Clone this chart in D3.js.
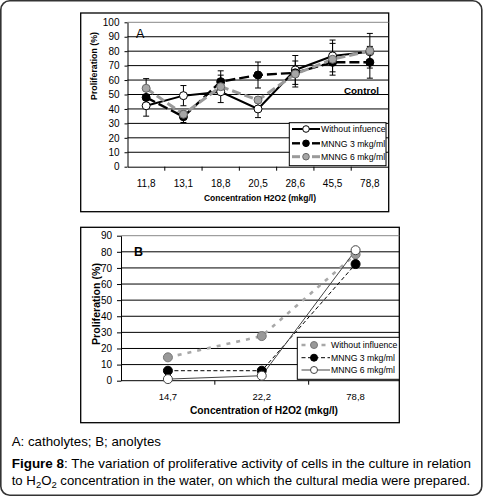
<!DOCTYPE html>
<html><head><meta charset="utf-8">
<script src="https://cdn.jsdelivr.net/npm/d3@7/dist/d3.min.js"></script>
<style>
html,body{margin:0;padding:0;background:#fff;}
svg{display:block;font-family:"Liberation Sans",Arial,sans-serif;}
</style></head>
<body>
<svg id="chart" width="483" height="498"></svg>
<script>
// ---------- DATA ----------
const categoriesA = ["11,8","13,1","18,8","20,5","28,6","45,5","78,8"];
const withoutA = [42.2,49.2,51.9,40.0,67.0,76.7,79.6];
const mnng3A   = [48.0,34.6,58.9,63.5,65.0,72.3,72.3];
const mnng6A   = [54.3,36.3,55.4,46.2,64.2,74.4,80.3];
const errWithoutA = [0,7,0,6,10,11,0];
const errMnng3A   = [13,4,4.5,9,0,0,11];
const errMnng6A   = [0,0,11,0,9,11,12];
const yTicksA = [0,10,20,30,40,50,60,70,80,90,100];
const legendA = ["Without infuence","MNNG 3 mkg/ml","MNNG 6 mkg/ml"];

const categoriesB = ["14,7","22,2","78,8"];
const withoutB = [14.5,27.7,78.4];
const mnng3B   = [6.2,6.2,72.4];
const mnng6B   = [1.0,3.1,81.0];
const yTicksB = [0,10,20,30,40,50,60,70,80,90];
const legendB = ["Without influence","MNNG 3 mkg/ml","MNNG 6 mkg/ml"];

// ---------- HELPERS ----------
const svg = d3.select("#chart");
function fit(sel, w){
  const n = sel.node();
  const cur = parseFloat(sel.attr("font-size"));
  const len = n.getComputedTextLength();
  if(len>0) sel.attr("font-size", (cur*w/len).toFixed(2));
  return sel;
}

// outer frame
svg.append("rect").attr("x",0.8).attr("y",0.8).attr("width",481).attr("height",494.5)
  .attr("rx",9).attr("fill","none").attr("stroke","#333").attr("stroke-width",1.6);

// ---------- PANEL A ----------
(function(){
  const L=127.5,R=388.5,T=22.3,B=166.7;
  svg.append("rect").attr("x",80.7).attr("y",13).attr("width",308).attr("height",198.7)
    .attr("fill","#fff").attr("stroke","#000").attr("stroke-width",1.3);
  const x = d3.scaleBand().domain(categoriesA).range([L,R]).padding(0);
  const y = d3.scaleLinear().domain([0,100]).range([B,T]);
  const g = svg.append("g");
  g.selectAll("line.grid").data(yTicksA.filter(d=>d>0)).join("line")
    .attr("x1",L).attr("x2",R).attr("y1",d=>y(d)).attr("y2",d=>y(d))
    .attr("stroke",d=>d===100?"#888":"#000").attr("stroke-width",1);
  const ya = g.append("g").attr("transform",`translate(${L},0)`)
    .call(d3.axisLeft(y).tickValues(yTicksA).tickSize(3).tickPadding(5).tickSizeOuter(0));
  ya.select(".domain").attr("stroke","#000");
  ya.selectAll("text").attr("font-size",10).attr("font-family","Liberation Sans, Arial").attr("fill","#000");
  const xa = g.append("g").attr("transform",`translate(0,${B})`)
    .call(d3.axisBottom(x).tickSize(0).tickPadding(13).tickSizeOuter(0));
  xa.select(".domain").attr("stroke","#000");
  xa.selectAll("text").attr("font-size",10).attr("font-family","Liberation Sans, Arial").attr("fill","#000");
  g.selectAll("line.xt").data(categoriesA.slice(1)).join("line")
    .attr("x1",d=>x(d)).attr("x2",d=>x(d)).attr("y1",B).attr("y2",B+4).attr("stroke","#000");
  fit(svg.append("text").attr("x",260).attr("y",201).attr("text-anchor","middle")
    .attr("font-size",9).attr("font-weight","bold").text("Concentration H2O2 (mkg/l)"),112);
  fit(svg.append("text").attr("transform","translate(96.5,66) rotate(-90)").attr("text-anchor","middle")
    .attr("font-size",9).attr("font-weight","bold").text("Proliferation (%)"),68);
  svg.append("text").attr("x",136).attr("y",38).attr("font-size",12.5).text("A");

  const series = [
    {v:withoutA,e:errWithoutA,stroke:"#000",w:2,dash:null,fill:"#fff",ms:"#000"},
    {v:mnng3A,e:errMnng3A,stroke:"#000",w:2.4,dash:"10,4",fill:"#000",ms:"#000"},
    {v:mnng6A,e:errMnng6A,stroke:"#9a9a9a",w:3,dash:"9,4",fill:"#a6a6a6",ms:"#666"}
  ];
  const line = d3.line().x((d,i)=>x(categoriesA[i])+x.bandwidth()/2).y(d=>y(d));
  series.forEach(s=>{
    s.v.forEach((v,i)=>{
      const e=s.e[i]; if(!e) return;
      const cx=x(categoriesA[i])+x.bandwidth()/2;
      g.append("line").attr("x1",cx).attr("x2",cx).attr("y1",y(v-e)).attr("y2",y(v+e)).attr("stroke","#000");
      [v-e,v+e].forEach(t=>g.append("line").attr("x1",cx-3).attr("x2",cx+3).attr("y1",y(t)).attr("y2",y(t)).attr("stroke","#000"));
    });
  });
  series.forEach(s=>{
    g.append("path").datum(s.v).attr("d",line).attr("fill","none").attr("stroke",s.stroke)
      .attr("stroke-width",s.w).attr("stroke-dasharray",s.dash);
  });
  series.forEach(s=>{
    g.selectAll(null).data(s.v).join("circle")
      .attr("cx",(d,i)=>x(categoriesA[i])+x.bandwidth()/2).attr("cy",d=>y(d)).attr("r",4)
      .attr("fill",s.fill).attr("stroke",s.ms).attr("stroke-width",1);
  });
  fit(svg.append("text").attr("x",344).attr("y",93.5).attr("font-size",10.5).attr("font-weight","bold").text("Control"),35);
  // legend
  const lg = svg.append("g");
  lg.append("rect").attr("x",289.3).attr("y",122.7).attr("width",96.7).attr("height",43)
    .attr("fill","#fff").attr("stroke","#000").attr("stroke-width",1);
  const rows=[129,143.3,156.7];
  let fsA = 9;
  series.forEach((s,i)=>{
    if(s.dash){
      [[292,300],[312,320]].forEach(seg=>lg.append("line").attr("x1",seg[0]).attr("x2",seg[1])
        .attr("y1",rows[i]).attr("y2",rows[i]).attr("stroke",s.stroke).attr("stroke-width",s.w));
    } else {
      lg.append("line").attr("x1",292).attr("x2",320).attr("y1",rows[i]).attr("y2",rows[i])
        .attr("stroke",s.stroke).attr("stroke-width",s.w);
    }
    lg.append("circle").attr("cx",306).attr("cy",rows[i]).attr("r",3.3).attr("fill",s.fill).attr("stroke",s.ms);
    const t = lg.append("text").attr("x",321).attr("y",rows[i]+3.3).attr("font-size",fsA).text(legendA[i]);
    if(i===0){ fit(t,64.7); fsA = t.attr("font-size"); }
  });
})();

// ---------- PANEL B ----------
(function(){
  const L=121,R=399.3,T=235.7,B=380.7;
  svg.append("rect").attr("x",80.7).attr("y",227.3).attr("width",318.6).attr("height",195.4)
    .attr("fill","#fff").attr("stroke","#000").attr("stroke-width",1.3);
  const x = d3.scaleBand().domain(categoriesB).range([L,402.5]).padding(0);
  const y = d3.scaleLinear().domain([0,90]).range([B,T]);
  const g = svg.append("g");
  g.selectAll("line.grid").data(yTicksB.filter(d=>d>0)).join("line")
    .attr("x1",L).attr("x2",R).attr("y1",d=>y(d)).attr("y2",d=>y(d))
    .attr("stroke",d=>d===90?"#888":"#000").attr("stroke-width",1);
  const ya = g.append("g").attr("transform",`translate(${L},0)`)
    .call(d3.axisLeft(y).tickValues(yTicksB).tickSize(4).tickPadding(5).tickSizeOuter(0));
  ya.select(".domain").attr("stroke","#000");
  ya.selectAll("text").attr("font-size",10).attr("font-family","Liberation Sans, Arial").attr("fill","#000");
  const xa = g.append("g").attr("transform",`translate(0,${B})`)
    .call(d3.axisBottom(x).tickSize(0).tickPadding(13).tickSizeOuter(0));
  xa.select(".domain").attr("stroke","#000").attr("d",`M${L},0H${R}`);
  xa.selectAll("text").attr("font-size",9.5).attr("font-family","Liberation Sans, Arial").attr("fill","#000");
  g.selectAll("line.xt").data(categoriesB.slice(1)).join("line")
    .attr("x1",d=>x(d)).attr("x2",d=>x(d)).attr("y1",B).attr("y2",B+4).attr("stroke","#000");
  fit(svg.append("text").attr("x",264).attr("y",414).attr("text-anchor","middle")
    .attr("font-size",10).attr("font-weight","bold").text("Concentration of H2O2 (mkg/l)"),148);
  fit(svg.append("text").attr("transform","translate(100,304) rotate(-90)").attr("text-anchor","middle")
    .attr("font-size",10).attr("font-weight","bold").text("Proliferation (%)"),82);
  svg.append("text").attr("x",134).attr("y",256).attr("font-size",12.5).attr("font-weight","bold").text("B");

  const series = [
    {v:withoutB,stroke:"#a8a8a8",w:2.6,dash:"4,6",fill:"#999",ms:"#777"},
    {v:mnng3B,stroke:"#000",w:1,dash:"4,2.5",fill:"#000",ms:"#000"},
    {v:mnng6B,stroke:"#444",w:1,dash:null,fill:"#fff",ms:"#444"}
  ];
  const line = d3.line().x((d,i)=>x(categoriesB[i])+x.bandwidth()/2).y(d=>y(d));
  series.forEach(s=>{
    g.append("path").datum(s.v).attr("d",line).attr("fill","none").attr("stroke",s.stroke)
      .attr("stroke-width",s.w).attr("stroke-dasharray",s.dash);
  });
  series.forEach(s=>{
    g.selectAll(null).data(s.v).join("circle")
      .attr("cx",(d,i)=>x(categoriesB[i])+x.bandwidth()/2).attr("cy",d=>y(d)).attr("r",4.5)
      .attr("fill",s.fill).attr("stroke",s.ms).attr("stroke-width",1);
  });
  const lg = svg.append("g");
  lg.append("rect").attr("x",297.3).attr("y",337.3).attr("width",102).attr("height",42)
    .attr("fill","#fff").attr("stroke","#000").attr("stroke-width",1);
  const rows=[345,357.7,370];
  let fsB = 9.5;
  series.forEach((s,i)=>{
    lg.append("line").attr("x1",301.5).attr("x2",330).attr("y1",rows[i]).attr("y2",rows[i])
      .attr("stroke",s.stroke).attr("stroke-width",s.w).attr("stroke-dasharray",s.dash);
    lg.append("circle").attr("cx",314).attr("cy",rows[i]).attr("r",3.5).attr("fill",s.fill).attr("stroke",s.ms);
    const t = lg.append("text").attr("x",331).attr("y",rows[i]+3.4).attr("font-size",fsB).text(legendB[i]);
    if(i===0){ fit(t,66.5); fsB = t.attr("font-size"); }
  });
})();

// ---------- CAPTION ----------
fit(svg.append("text").attr("x",11.7).attr("y",446).attr("font-size",13).text("A: catholytes; B; anolytes"),149.3);
const c1 = svg.append("text").attr("x",11.7).attr("y",468).attr("font-size",13);
c1.append("tspan").attr("font-weight","bold").text("Figure 8");
c1.append("tspan").text(": The variation of proliferative activity of cells in the culture in relation");
fit(c1,459.3);
const c2 = svg.append("text").attr("x",11.7).attr("y",484.5).attr("font-size",13);
c2.append("tspan").text("to H");
c2.append("tspan").attr("font-size","0.72em").attr("dy",3).text("2");
c2.append("tspan").attr("dy",-3).text("O");
c2.append("tspan").attr("font-size","0.72em").attr("dy",3).text("2");
c2.append("tspan").attr("dy",-3).text(" concentration in the water, on which the cultural media were prepared.");
fit(c2,458.5);
</script>
</body></html>
